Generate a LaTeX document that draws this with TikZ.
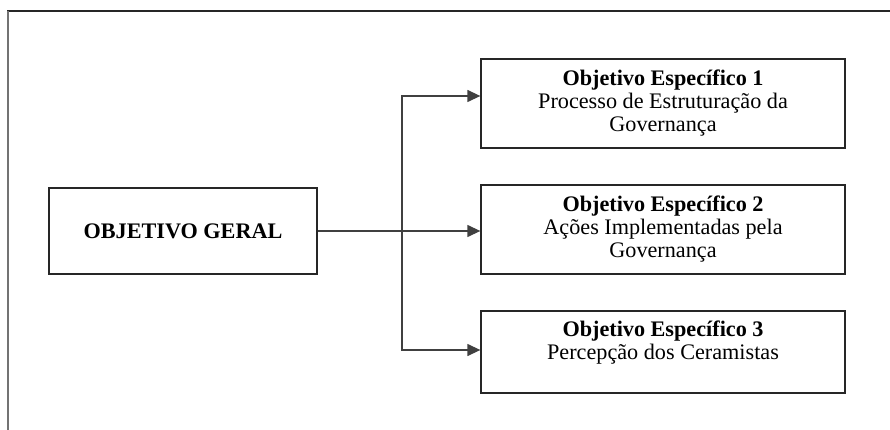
\documentclass[tikz,border=0pt]{standalone}
\usepackage{fontspec}
\setmainfont{Liberation Serif}
\usetikzlibrary{arrows.meta}
\begin{document}
\begin{tikzpicture}[x=1pt,y=-1pt,
  objbox/.style={draw=black!85, line width=1.3pt, rectangle, align=center, inner sep=0pt,
    font=\fontsize{22.2}{23}\selectfont},
  conn/.style={draw=black!75, line width=1.3pt},
  arr/.style={conn, -{Triangle[length=13pt,width=12pt]}}]
\useasboundingbox (0,0) rectangle (890,430);
% frame
\draw[black!85, line width=1.4pt] (7,11) -- (892,11);
\draw[black!55, line width=2pt] (8,11) -- (8,432);
% nodes
\node[objbox, minimum width=268pt, minimum height=86pt] (main) at (183,231)
  {\textbf{OBJETIVO GERAL}};
\node[objbox, minimum width=364pt, minimum height=89pt] (b1) at (663,103.5)
  {\textbf{Objetivo Específico 1}\\Processo de Estruturação da\\Governança};
\node[objbox, minimum width=364pt, minimum height=89pt] (b2) at (663,229.5)
  {\textbf{Objetivo Específico 2}\\Ações Implementadas pela\\Governança};
\node[objbox, minimum width=364pt, minimum height=82pt] (b3) at (663,352)
  {\textbf{Objetivo Específico 3}\\Percepção dos Ceramistas\\\mbox{}};
% connectors
\coordinate (j) at (402,231);
\draw[arr] (main.east) -- (main.east -| b2.west);
\draw[arr] (j) |- ([yshift=7.5pt]b1.west);
\draw[arr] (j) |- ([yshift=2pt]b3.west);
\end{tikzpicture}
\end{document}
